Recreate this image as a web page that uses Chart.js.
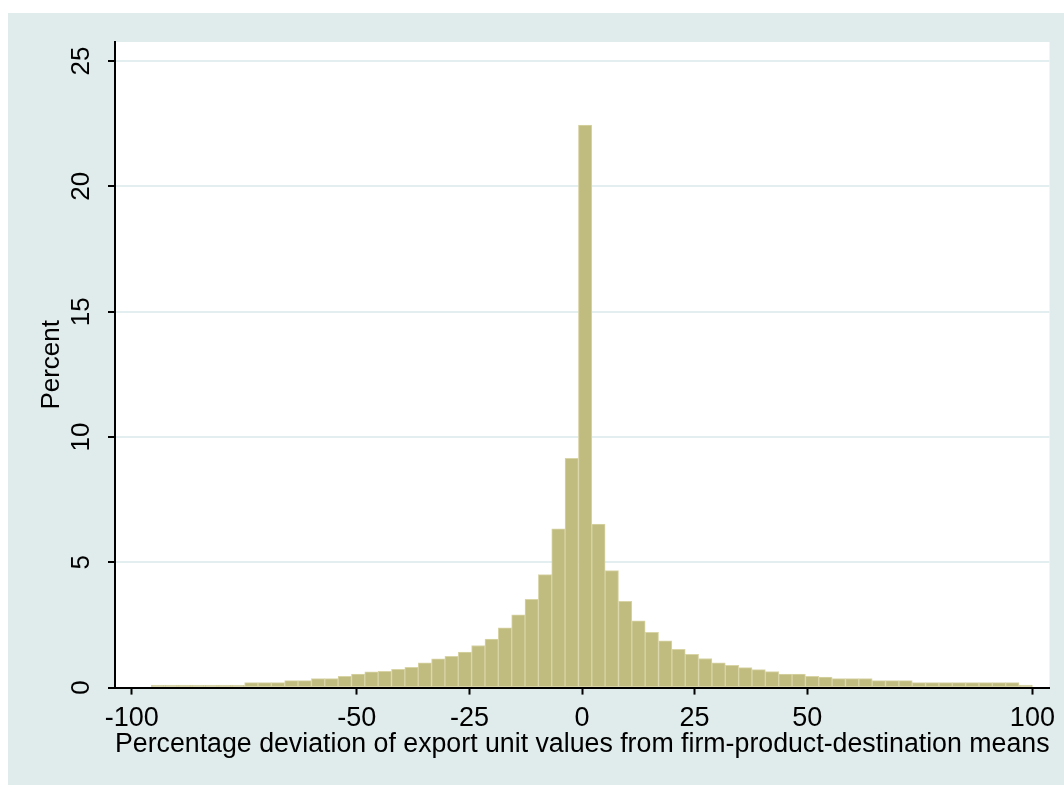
<!DOCTYPE html>
<html>
<head>
<meta charset="utf-8">
<script src="https://cdn.jsdelivr.net/npm/chart.js@4/dist/chart.umd.min.js"></script>
<style>
  body { margin: 0; background: #fff; }
  #wrap { width: 1064px; height: 785px; }
</style>
</head>
<body>
<div id="wrap"><canvas id="hist"></canvas></div>
<script>
// ================= DATA =================
const binStart = -95.67
const binWidth = 2.9647
const percent = [
  0.10, 0.10, 0.10, 0.10, 0.10, 0.10, 0.10, 0.20, 0.20, 0.20,
  0.28, 0.28, 0.36, 0.36, 0.45, 0.54, 0.63, 0.65, 0.73, 0.81,
  0.99, 1.15, 1.25, 1.42, 1.68, 1.94, 2.38, 2.90, 3.52, 4.51,
  6.34, 9.15, 22.45, 6.52, 4.67, 3.44, 2.66, 2.21, 1.87, 1.53,
  1.33, 1.16, 0.99, 0.89, 0.80, 0.72, 0.64, 0.54, 0.54, 0.45,
  0.42, 0.36, 0.36, 0.36, 0.28, 0.28, 0.28, 0.20, 0.20, 0.20,
  0.20, 0.20, 0.20, 0.20, 0.20, 0.10
]
const xTicks = [-100, -50, -25, 0, 25, 50, 100]
const yTicks = [0, 5, 10, 15, 20, 25]
const xTitle = 'Percentage deviation of export unit values from firm-product-destination means'
const yTitle = 'Percent'

// ================= STYLE =================
const FONT = "'Liberation Sans', Arial, sans-serif"
const OUTER = '#e0ebeb'
const GRID = '#e2eef0'

// background: white margin, bluish graph region, white plot region
const backdrop = {
  id: 'backdrop',
  beforeDraw(chart) {
    const { ctx, chartArea: a } = chart
    ctx.save()
    ctx.fillStyle = '#fff'
    ctx.fillRect(0, 0, chart.width, chart.height)
    ctx.fillStyle = OUTER
    ctx.fillRect(8, 13, chart.width - 8, chart.height - 13)
    ctx.fillStyle = '#fff'
    ctx.fillRect(a.left, a.top, a.right - a.left, a.bottom - a.top)
    ctx.restore()
  }
}

const points = percent.map((p, i) => ({ x: binStart + binWidth * (i + 0.5), y: p }))

new Chart(document.getElementById('hist'), {
  type: 'bar',
  data: {
    datasets: [{
      data: points,
      backgroundColor: '#c0bc80',
      borderColor: '#d9d4a6',
      borderWidth: 1,
      borderSkipped: false,
      barPercentage: 1,
      categoryPercentage: 1
    }]
  },
  options: {
    responsive: true,
    maintainAspectRatio: false,
    animation: false,
    layout: { padding: { top: 42, right: 14.5, bottom: 0, left: 0 } },
    plugins: { legend: { display: false }, tooltip: { enabled: false } },
    scales: {
      x: {
        type: 'linear',
        min: -103.7,
        max: 103.8,
        offset: false,
        afterBuildTicks: s => { s.ticks = xTicks.map(v => ({ value: v })) },
        afterFit: s => { s.height = 97.4 },
        grid: { drawOnChartArea: false, offset: false, tickLength: 7, tickWidth: 2, tickColor: '#000' },
        border: { color: '#000', width: 2 },
        ticks: { autoSkip: false, maxRotation: 0, padding: 8, color: '#000', font: { family: FONT, size: 27 } },
        title: { display: true, text: xTitle, color: '#000', padding: { top: 0, bottom: 24 }, font: { family: FONT, size: 27 } }
      },
      y: {
        min: 0,
        max: 25.76,
        afterBuildTicks: s => { s.ticks = yTicks.map(v => ({ value: v })) },
        afterFit: s => { s.width = 115 },
        grid: { color: GRID, lineWidth: 2, tickLength: 7, tickWidth: 2, tickColor: '#000' },
        border: { color: '#000', width: 2 },
        ticks: { minRotation: 90, maxRotation: 90, crossAlign: 'center', padding: 12, color: '#000', font: { family: FONT, size: 26 } },
        title: { display: true, text: yTitle, color: '#000', padding: { top: 36 }, font: { family: FONT, size: 26 } }
      }
    }
  },
  plugins: [backdrop]
})
</script>
</body>
</html>
